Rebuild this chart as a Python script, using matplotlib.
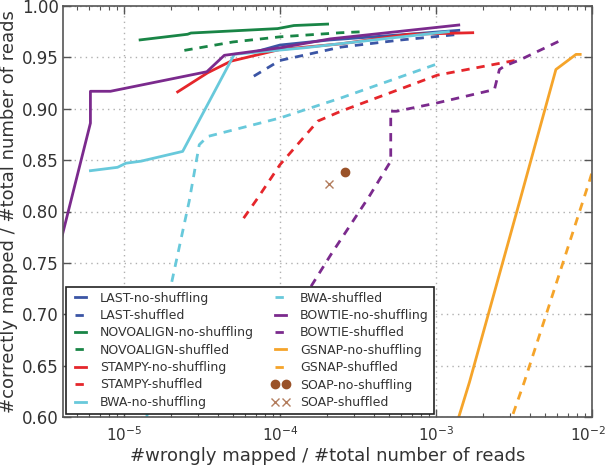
import matplotlib
matplotlib.use("Agg")
import matplotlib.pyplot as plt
from matplotlib.ticker import LogLocator, FixedLocator
from matplotlib.transforms import ScaledTranslation

plt.rcParams['font.family'] = ['DejaVu Sans']
plt.rcParams['lines.scale_dashes'] = False

# ---- data (x: wrongly mapped fraction, y: correctly mapped fraction) ----
last_ns_x = [7.2e-5, 1.0e-4, 2.1e-4, 6.0e-4, 1.4e-3]
last_ns_y = [0.956, 0.962, 0.967, 0.972, 0.9763]
last_sh_x = [6.8e-5, 1.0e-4, 2.46e-4, 6.0e-4, 1.4e-3]
last_sh_y = [0.9317, 0.947, 0.960, 0.967, 0.9724]

novo_ns_x = [1.27e-5, 2.56e-5, 2.69e-5, 9.66e-5, 1.23e-4, 2.02e-4]
novo_ns_y = [0.967, 0.9725, 0.9737, 0.978, 0.981, 0.9824]
novo_sh_x = [2.44e-5, 5.0e-5, 1.0e-4, 2.46e-4, 3.56e-4]
novo_sh_y = [0.9568, 0.965, 0.970, 0.974, 0.9751]

stampy_ns_x = [2.21e-5, 3.44e-5, 4.85e-5, 1.0e-4, 2.46e-4, 6.6e-4, 1.72e-3]
stampy_ns_y = [0.9164, 0.935, 0.9463, 0.9577, 0.9632, 0.9724, 0.974]
stampy_sh_x = [5.85e-5, 7.2e-5, 1.0e-4, 1.75e-4, 2.46e-4, 1.02e-3, 3.03e-3, 3.5e-3]
stampy_sh_y = [0.7935, 0.813, 0.8455, 0.888, 0.8976, 0.9327, 0.9463, 0.948]

bwa_ns_x = [6.1e-6, 9.1e-6, 1.03e-5, 1.29e-5, 2.38e-5, 5.1e-5, 1.43e-4, 4.0e-4, 1.2e-3]
bwa_ns_y = [0.8397, 0.843, 0.847, 0.849, 0.8585, 0.953, 0.9593, 0.967, 0.975]
bwa_sh_x = [1.4e-5, 2.03e-5, 2.62e-5, 3.04e-5, 3.44e-5, 1.0e-4, 2.46e-4, 1.02e-3]
bwa_sh_y = [0.600, 0.732, 0.810, 0.865, 0.873, 0.891, 0.9105, 0.9437]

bowtie_ns_x = [3.5e-6, 6.1e-6, 6.1e-6, 8.2e-6, 3.4e-5, 4.4e-5, 1.0e-4, 2.1e-4, 1.4e-3]
bowtie_ns_y = [0.740, 0.886, 0.917, 0.917, 0.936, 0.952, 0.9593, 0.968, 0.9815]
bowtie_sh_x = [6.0e-5, 1.58e-4, 2.12e-4, 3.73e-4, 5.13e-4, 5.13e-4, 5.6e-4, 1.02e-3,
               2.37e-3, 2.55e-3, 2.75e-3, 3.5e-3, 6.5e-3]
bowtie_sh_y = [0.627, 0.727, 0.758, 0.8146, 0.849, 0.8976, 0.8976, 0.9057,
               0.9187, 0.9382, 0.9415, 0.948, 0.9675]

gsnap_ns_x = [1.4e-3, 1.64e-3, 3.44e-3, 5.87e-3, 7.9e-3, 8.4e-3]
gsnap_ns_y = [0.600, 0.634, 0.810, 0.9382, 0.9529, 0.9529]
gsnap_sh_x = [3.12e-3, 3.68e-3, 9.6e-3, 1.1e-2]
gsnap_sh_y = [0.603, 0.634, 0.829, 0.859]

soap_ns_x = [2.61e-4]
soap_ns_y = [0.838]
soap_sh_x = [2.07e-4]
soap_sh_y = [0.8267]

C_LAST = '#3b55a5'
C_NOVO = '#198546'
C_STAMPY = '#e5262b'
C_BWA = '#68c9db'
C_BOWTIE = '#7b2a8d'
C_GSNAP = '#f5a42a'
C_SOAP = '#9a5228'

TEXT = '#333333'
SPINE = '#555555'

fig = plt.figure(figsize=(6.05, 4.66), dpi=100)
ax = fig.add_axes([63 / 605, 1 - 417 / 466, (592 - 63) / 605, (417 - 6) / 466])

lw = 2.0
dash = (6, 5)
ax.plot(last_ns_x, last_ns_y, color=C_LAST, lw=lw, label='LAST-no-shuffling')
ax.plot(last_sh_x, last_sh_y, color=C_LAST, lw=lw, dashes=dash, label='LAST-shuffled')
ax.plot(novo_ns_x, novo_ns_y, color=C_NOVO, lw=lw, label='NOVOALIGN-no-shuffling')
ax.plot(novo_sh_x, novo_sh_y, color=C_NOVO, lw=lw, dashes=dash, label='NOVOALIGN-shuffled')
ax.plot(stampy_ns_x, stampy_ns_y, color=C_STAMPY, lw=lw, label='STAMPY-no-shuffling')
ax.plot(stampy_sh_x, stampy_sh_y, color=C_STAMPY, lw=lw, dashes=dash, label='STAMPY-shuffled')
ax.plot(bwa_ns_x, bwa_ns_y, color=C_BWA, lw=lw, label='BWA-no-shuffling')
ax.plot(bwa_sh_x, bwa_sh_y, color=C_BWA, lw=lw, dashes=dash, label='BWA-shuffled')
ax.plot(bowtie_ns_x, bowtie_ns_y, color=C_BOWTIE, lw=lw, label='BOWTIE-no-shuffling')
ax.plot(bowtie_sh_x, bowtie_sh_y, color=C_BOWTIE, lw=lw, dashes=dash, label='BOWTIE-shuffled')
ax.plot(gsnap_ns_x, gsnap_ns_y, color=C_GSNAP, lw=lw, label='GSNAP-no-shuffling')
ax.plot(gsnap_sh_x, gsnap_sh_y, color=C_GSNAP, lw=lw, dashes=dash, label='GSNAP-shuffled')
ax.plot(soap_ns_x, soap_ns_y, 'o', color=C_SOAP, ms=6, mec=C_SOAP, label='SOAP-no-shuffling')
ax.plot(soap_sh_x, soap_sh_y, 'x', color=C_SOAP, alpha=0.75, ms=6, mew=1, label='SOAP-shuffled')

ax.set_xscale('log')
ax.set_xlim(4.07e-6, 1.0e-2)
ax.set_ylim(0.60, 1.00)
ax.yaxis.set_major_locator(FixedLocator([0.60, 0.65, 0.70, 0.75, 0.80, 0.85, 0.90, 0.95, 1.00]))
ax.set_yticklabels(['0.60', '0.65', '0.70', '0.75', '0.80', '0.85', '0.90', '0.95', '1.00'])
ax.xaxis.set_major_locator(FixedLocator([1e-5, 1e-4, 1e-3, 1e-2]))
ax.set_xticklabels([r'$10^{-5}$', r'$10^{-4}$', r'$10^{-3}$', r'$10^{-2}$'])
ax.xaxis.set_minor_locator(LogLocator(base=10, subs=range(2, 10), numticks=20))

ax.grid(True, which='major', linestyle=(0, (1, 3)), color='#b0b0b0', linewidth=1)
ax.tick_params(which='both', direction='in', top=True, right=True, colors=SPINE,
               labelcolor=TEXT)
ax.tick_params(axis='y', labelsize=12)
ax.tick_params(axis='x', labelsize=11)
ax.tick_params(which='major', length=6, width=1)
ax.tick_params(which='minor', length=3, width=0.8)
ax.tick_params(axis='x', which='major', pad=6)
ax.tick_params(axis='y', which='major', pad=3)
for s in ax.spines.values():
    s.set_color(SPINE)
    s.set_linewidth(1.2)

# nudge the last x tick label left so it stays inside the figure
last_lbl = ax.get_xticklabels()[-1]
last_lbl.set_transform(last_lbl.get_transform() + ScaledTranslation(-4 / 100, 0, fig.dpi_scale_trans))

ax.set_xlabel('#wrongly mapped / #total number of reads', fontsize=13, color=TEXT, labelpad=2)
ax.set_ylabel('#correctly mapped / #total number of reads', fontsize=13, color=TEXT, labelpad=3)

leg = ax.legend(loc='lower left', ncol=2, fontsize=9, numpoints=2, handlelength=1.5,
                labelspacing=0.35, columnspacing=1.4, borderaxespad=0.25,
                fancybox=False, framealpha=1, edgecolor='#222222')
leg.get_frame().set_linewidth(1.2)
for t in leg.get_texts():
    t.set_color(TEXT)

fig.savefig('out.png', dpi=100, facecolor='white')
